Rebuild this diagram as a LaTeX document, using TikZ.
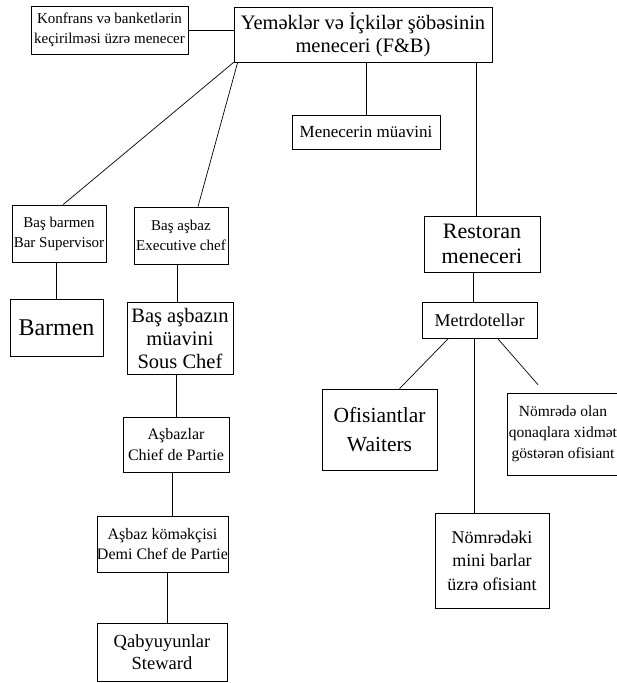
\documentclass[tikz,border=0pt]{standalone}
\usepackage{fontspec}
\setmainfont{Liberation Serif}
\begin{document}
\begin{tikzpicture}[x=1pt,y=-1pt,line width=0.7pt,
  orgbox/.style={draw,align=center,inner sep=0pt},
  fsz/.style 2 args={font=\fontsize{#1}{#2}\selectfont}]
\useasboundingbox (0,0) rectangle (617,683);
\node[orgbox,fsz={15}{20},minimum width=157pt,minimum height=48pt] (konf) at (109.5,30) {Konfrans və banketlərin\\keçirilməsi üzrə menecer};
\node[orgbox,fsz={20.5}{23},minimum width=258pt,minimum height=55pt] (fb) at (363,34.5) {Yeməklər və İçkilər şöbəsinin\\meneceri (F\&B)};
\node[orgbox,fsz={17}{20},minimum width=148pt,minimum height=34pt] (muavin) at (366,132) {Menecerin müavini};
\node[orgbox,fsz={15}{20},minimum width=94pt,minimum height=57pt] (barsup) at (59,233.5) {Baş barmen\\Bar Supervisor};
\node[orgbox,fsz={15}{20},minimum width=94pt,minimum height=57pt] (exec) at (181,235.5) {Baş aşbaz\\Executive chef};
\node[orgbox,fsz={24}{28},minimum width=93pt,minimum height=57pt] (barmen) at (56.5,327.5) {Barmen};
\node[orgbox,fsz={20.5}{23},minimum width=106pt,minimum height=72pt] (sous) at (180,338) {Baş aşbazın\\müavini\\Sous Chef};
\node[orgbox,fsz={16}{21},minimum width=106pt,minimum height=55pt] (partie) at (176,444.5) {Aşbazlar\\Chief de Partie};
\node[orgbox,fsz={16}{20},minimum width=131pt,minimum height=56pt] (demi) at (162.5,544) {Aşbaz köməkçisi\\Demi Chef de Partie};
\node[orgbox,fsz={18.5}{22},minimum width=130pt,minimum height=58pt] (steward) at (162,652) {Qabyuyunlar\\Steward};
\node[orgbox,fsz={22}{25},minimum width=116pt,minimum height=56pt] (restoran) at (482,244) {Restoran\\meneceri};
\node[orgbox,fsz={18}{21},minimum width=115pt,minimum height=36pt] (metr) at (479.5,320) {Metrdotellər};
\node[orgbox,fsz={21.5}{29},minimum width=115pt,minimum height=81pt] (waiters) at (379.5,429.5) {Ofisiantlar\\Waiters};
\node[orgbox,fsz={15.5}{21},minimum width=112pt,minimum height=82pt] (nomrede) at (563,434) {Nömrədə olan\\qonaqlara xidmət\\göstərən ofisiant};
\node[orgbox,fsz={18}{23.5},minimum width=114pt,minimum height=95pt] (minibar) at (492,560.5) {Nömrədəki\\mini barlar\\üzrə ofisiant};
\coordinate (nend) at ([shift={(-25,-8)}]nomrede.north);
\draw (konf.east) -- (konf.east -| fb.west);
\draw (muavin.north) -- (muavin.north |- fb.south);
\draw (fb.south west) -- ([xshift=4pt]barsup.north);
\draw ([xshift=4pt]fb.south west) -- ([xshift=17pt]exec.north);
\draw ([xshift=-6pt]restoran.north) -- ([xshift=-6pt]restoran.north |- fb.south);
\draw (barmen.north) -- (barmen.north |- barsup.south);
\draw ([xshift=-4pt]exec.south) -- ([xshift=-4pt]exec.south |- sous.north);
\draw (partie.north) -- (partie.north |- sous.south);
\draw ([xshift=-4pt]partie.south) -- ([xshift=-4pt]partie.south |- demi.north);
\draw ([xshift=5pt]steward.north) -- ([xshift=5pt]steward.north |- demi.south);
\draw ([xshift=-6pt]metr.north) -- ([xshift=-6pt]metr.north |- restoran.south);
\draw ([xshift=-31pt]metr.south) -- ([xshift=20pt]waiters.north);
\draw ([xshift=-18pt]minibar.north) -- ([xshift=-18pt]minibar.north |- metr.south);
\draw ([xshift=18pt]metr.south) -- (nend);
\end{tikzpicture}
\end{document}
